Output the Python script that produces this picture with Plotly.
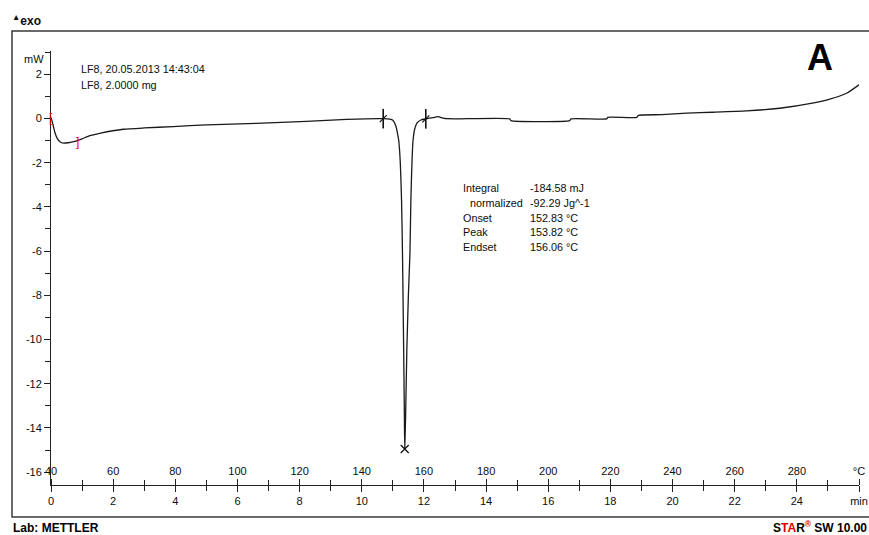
import plotly.graph_objects as go

# DSC heating run: heat flow (mW) against time (min), 40 -> 300 °C at 10 K/min
time_min = [
    0.0, 0.05, 0.13, 0.2, 0.3, 0.4, 0.55, 0.72, 0.84, 1.0, 1.25, 1.6, 2.33, 3.0,
    3.93, 5.0, 6.6, 8.22, 9.51, 10.69, 10.9, 11.0, 11.1, 11.16, 11.19, 11.24,
    11.28, 11.31, 11.34, 11.37, 11.382, 11.41, 11.45, 11.5, 11.55, 11.58, 11.62,
    11.65, 11.7, 11.78, 11.9, 12.06, 12.3, 12.45, 12.65, 13.0, 14.76, 14.8,
    16.69, 16.73, 17.88, 17.92, 18.85, 18.9, 19.65, 20.46, 21.29, 22.38, 23.45,
    24.5, 25.06, 25.6, 26.0,
]
heat_flow_mw = [
    0.05, -0.2, -0.66, -0.9, -1.07, -1.12, -1.1, -1.05, -1.0, -0.92, -0.78,
    -0.66, -0.49, -0.43, -0.37, -0.29, -0.22, -0.13, -0.04, -0.01, -0.03, -0.08,
    -0.35, -0.75, -1.0, -2.0, -3.7, -6.1, -9.5, -13.2, -14.95, -13.5, -10.5,
    -8.0, -6.1, -3.7, -1.8, -1.0, -0.5, -0.2, -0.07, -0.02, 0.04, 0.08, 0.0,
    -0.02, -0.02, -0.1, -0.1, -0.02, -0.02, 0.05, 0.05, 0.14, 0.17, 0.24, 0.28,
    0.34, 0.46, 0.69, 0.87, 1.14, 1.52,
]

start_temp_c = 40
rate_c_per_min = 10
end_time_min = 26

# peak evaluation results
integral_mj = -184.58
normalized_jg = -92.29
onset_c = 152.83
peak_c = 153.82
endset_c = 156.06
peak_mw = -14.95

# integration limits
peak_limits_min = [10.69, 12.06]
peak_limits_mw = [-0.01, -0.02]
start_limits_min = [0.0, 0.84]
start_limits_mw = [0.0, -1.05]
start_limit_marks = ["[", "]"]

y_ticks = [2, 0, -2, -4, -6, -8, -10, -12, -14, -16]
min_ticks = list(range(0, 26, 2))
temp_ticks = list(range(40, 300, 20))

W, H = 869, 535
L, R, T, B = 51, 859.3, 51, 485
FONT = "Liberation Sans, Arial, sans-serif"
INK = "#0d0d0d"


def px(x):
    return (x - L) / (R - L)


def py(y):
    return (B - y) / (B - T)


fig = go.Figure()

fig.add_trace(go.Scatter(
    x=time_min, y=heat_flow_mw, mode="lines",
    line=dict(color="#1a1a1a", width=1.3, shape="spline", smoothing=0.5),
    hoverinfo="skip", showlegend=False,
))

# integration limits of the melting peak
fig.add_trace(go.Scatter(
    x=peak_limits_min, y=peak_limits_mw, mode="markers",
    marker=dict(symbol="line-ns", size=14, line=dict(color="#111", width=1.6)),
    hoverinfo="skip", showlegend=False,
))
fig.add_trace(go.Scatter(
    x=peak_limits_min, y=peak_limits_mw, mode="markers",
    marker=dict(symbol="line-ne", size=7, line=dict(color="#111", width=1.2)),
    hoverinfo="skip", showlegend=False,
))

# peak marker on the temperature axis
fig.add_trace(go.Scatter(
    x=[peak_c], y=[peak_mw], xaxis="x2", mode="markers",
    marker=dict(symbol="x-thin", size=8, line=dict(color="#111", width=1.3)),
    hoverinfo="skip", showlegend=False,
))

# red limits of the start-up transient
for t, v, mark in zip(start_limits_min, start_limits_mw, start_limit_marks):
    fig.add_annotation(
        x=t, y=v, xref="x", yref="y", text=mark, showarrow=False,
        xanchor="center", yanchor="middle",
        font=dict(color="#e00000", size=12, family=FONT),
    )

tickfont = dict(family=FONT, size=11, color=INK)

fig.update_layout(
    width=W, height=H, autosize=False,
    margin=dict(l=L, r=W - R, t=T, b=H - B, pad=0),
    paper_bgcolor="white", plot_bgcolor="white",
    showlegend=False,
    xaxis=dict(
        range=[0, end_time_min], showgrid=False, zeroline=False,
        showline=True, linecolor="#222", linewidth=1,
        tickmode="array", tickvals=min_ticks + [end_time_min],
        ticktext=[str(v) for v in min_ticks] + ["min"],
        ticks="outside", ticklen=6, tickwidth=1, tickcolor="#222",
        minor=dict(dtick=1, ticks="outside", ticklen=5, tickwidth=1, tickcolor="#222"),
        tickfont=tickfont, automargin=False,
    ),
    xaxis2=dict(
        range=[start_temp_c, start_temp_c + rate_c_per_min * end_time_min],
        overlaying="x", anchor="free", position=0, side="top",
        showgrid=False, zeroline=False, showline=False,
        tickmode="array", tickvals=temp_ticks + [start_temp_c + rate_c_per_min * end_time_min],
        ticktext=[str(v) for v in temp_ticks] + ["°C"],
        ticks="outside", ticklen=6, tickwidth=1, tickcolor="#222",
        minor=dict(dtick=rate_c_per_min, ticks="outside", ticklen=5, tickwidth=1, tickcolor="#222"),
        tickfont=tickfont, automargin=False,
    ),
    yaxis=dict(
        range=[-16.58, 3.05], showgrid=False, zeroline=False,
        showline=True, linecolor="#222", linewidth=1,
        tickmode="array", tickvals=y_ticks, ticktext=[str(v) for v in y_ticks],
        ticks="outside", ticklen=6, tickwidth=1, tickcolor="#222",
        minor=dict(dtick=1, ticks="outside", ticklen=5, tickwidth=1, tickcolor="#222"),
        tickfont=tickfont, automargin=False,
    ),
)

# outer frame
fig.add_shape(type="rect", xref="paper", yref="paper",
              x0=px(12), x1=px(871), y0=py(517), y1=py(31),
              line=dict(color="#3a3a3a", width=1.5), fillcolor="rgba(0,0,0,0)")


def label(text, x, y, size=11, xanchor="left", bold=False, color=INK):
    fig.add_annotation(
        text=f"<b>{text}</b>" if bold else text,
        xref="paper", yref="paper", x=px(x), y=py(y),
        xanchor=xanchor, yanchor="middle", showarrow=False,
        font=dict(family=FONT, size=size, color=color),
    )


label("<sup>▲</sup>exo", 10, 20, size=12, bold=True)
label("mW", 33.5, 59, size=11, xanchor="center")
label("LF8, 20.05.2013 14:43:04", 79, 69, size=10.8)
label("LF8, 2.0000 mg", 79, 85, size=10.8)
label("A", 820, 57, size=36, xanchor="center", bold=True, color="#000")

rows = [
    ("Integral", 461.5, f"{integral_mj:.2f} mJ"),
    ("normalized", 468, f"{normalized_jg:.2f} Jg^-1"),
    ("Onset", 461.5, f"{onset_c:.2f} °C"),
    ("Peak", 461.5, f"{peak_c:.2f} °C"),
    ("Endset", 461.5, f"{endset_c:.2f} °C"),
]
for i, (name, x0, value) in enumerate(rows):
    yy = 188 + i * 14.8
    label(name, x0, yy, size=10.8)
    label(value, 528, yy, size=10.8)

label("Lab: METTLER", 11, 528, size=12, bold=True, color="#000")
label("S<span style='color:#e00000'>TA</span>R<span style='color:#e00000'><sup>®</sup></span> SW 10.00",
      869, 527, size=12, xanchor="right", bold=True, color="#000")

fig.write_html("out.html")
